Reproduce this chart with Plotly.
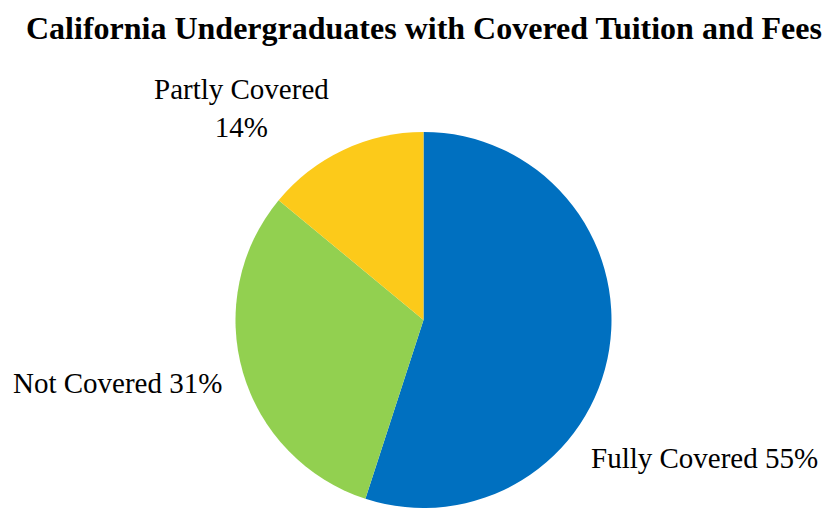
import plotly.graph_objects as go

labels = ["Fully Covered", "Not Covered", "Partly Covered"]
values = [55, 31, 14]
colors = ["#0070C0", "#92D050", "#FCCA1A"]
title_text = "California Undergraduates with Covered Tuition and Fees"

W, H = 825, 508

fig = go.Figure(go.Pie(
    labels=labels, values=values, sort=False, direction="clockwise", rotation=0,
    marker=dict(colors=colors, line=dict(width=0)),
    textinfo="none", hoverinfo="label+percent", showlegend=False,
    domain=dict(x=[235.5 / W, 611.5 / W], y=[0, 376 / H]),
))

lab_font = dict(family="Liberation Serif", size=29, color="#000000")
fig.add_annotation(x=241 / W, y=1 - 108 / H, xref="paper", yref="paper",
                   text=f"{labels[2]}<br>{values[2]}%", showarrow=False,
                   font=lab_font, align="center", xanchor="center", yanchor="middle")
fig.add_annotation(x=11 / W, y=1 - 383 / H, xref="paper", yref="paper",
                   text=f"{labels[1]} {values[1]}%", showarrow=False,
                   font=lab_font, xanchor="left", yanchor="middle")
fig.add_annotation(x=589 / W, y=1 - 458 / H, xref="paper", yref="paper",
                   text=f"{labels[0]} {values[0]}%", showarrow=False,
                   font=lab_font, xanchor="left", yanchor="middle")
fig.add_annotation(x=424 / W, y=1 - 28 / H, xref="paper", yref="paper",
                   text=f"<b>{title_text}</b>", showarrow=False,
                   font=dict(family="Liberation Serif", size=32, color="#000000"),
                   xanchor="center", yanchor="middle")

fig.update_layout(width=W, height=H, margin=dict(l=0, r=0, t=0, b=0),
                  paper_bgcolor="white", plot_bgcolor="white")
fig.write_html("out.html")
